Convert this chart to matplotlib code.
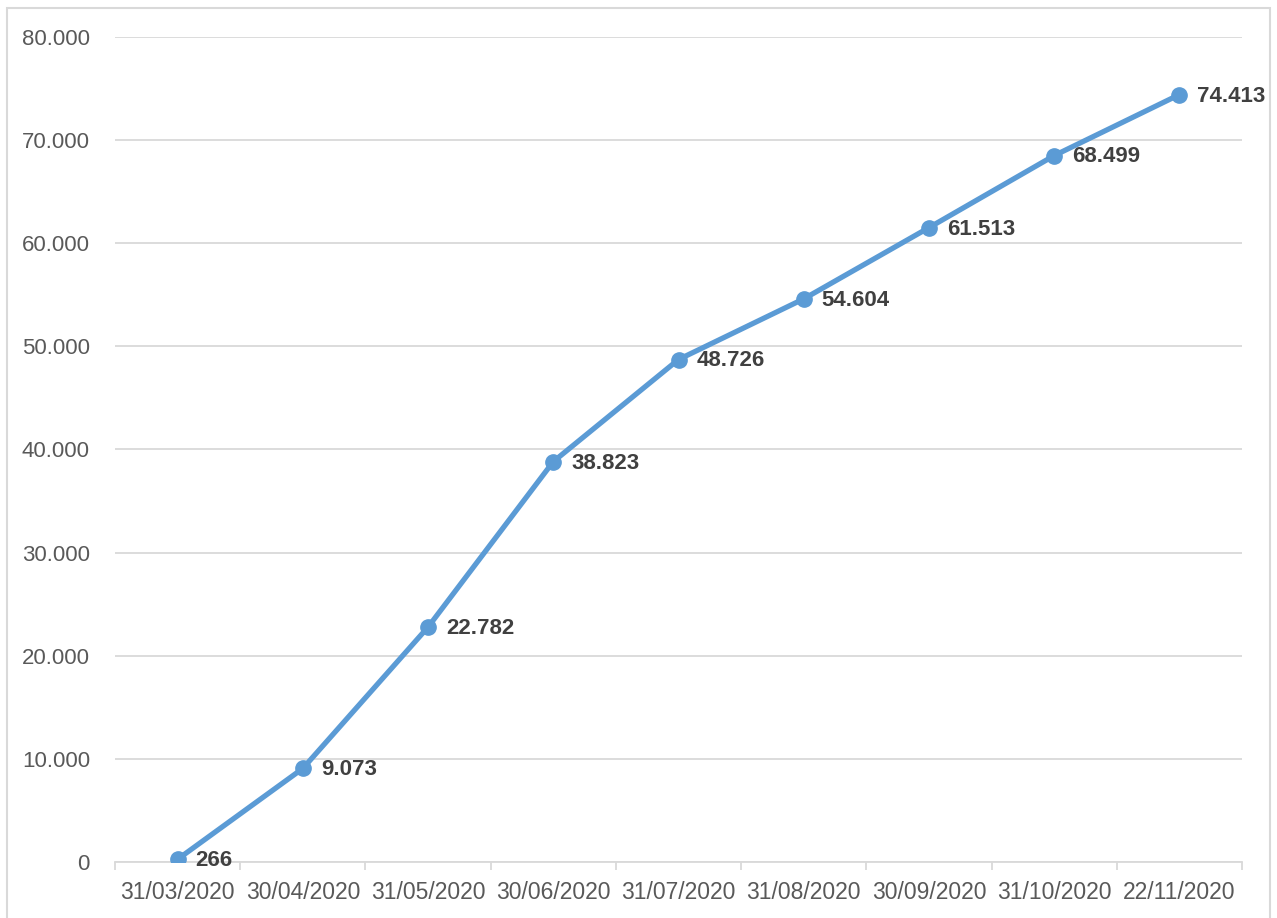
import matplotlib

matplotlib.use("Agg")
import matplotlib.pyplot as plt  # noqa: E402
from matplotlib.patches import Rectangle  # noqa: E402

dates = ["31/03/2020", "30/04/2020", "31/05/2020", "30/06/2020", "31/07/2020",
         "31/08/2020", "30/09/2020", "31/10/2020", "22/11/2020"]
cases = [266, 9073, 22782, 38823, 48726, 54604, 61513, 68499, 74413]
yticks = [0, 10000, 20000, 30000, 40000, 50000, 60000, 70000, 80000]

LINE = "#5b9bd5"
GRID = "#d9d9d9"
TXT = "#595959"
LBL = "#404040"


def fmt(v):
    return f"{v:,}".replace(",", ".")


plt.rcParams["font.family"] = ["Liberation Sans", "DejaVu Sans"]

fig = plt.figure(figsize=(12.77, 9.18), dpi=100)
ax = fig.add_axes([115 / 1277, 56 / 918, 1127 / 1277, 825 / 918])

# chart-area border, as in the spreadsheet export
fig.patches.append(Rectangle((7 / 1277, -0.05), 1263 / 1277, 1.05 - 8 / 918,
                             transform=fig.transFigure, fill=False,
                             ec=GRID, lw=1.5, zorder=0))

x = list(range(len(dates)))
ax.plot(x, cases, color=LINE, lw=3.8, marker="o", ms=11, zorder=3,
        solid_capstyle="round")
for xi, v in zip(x, cases):
    ax.annotate(fmt(v), (xi, v), xytext=(13, -1), textcoords="offset points",
                ha="left", va="center", fontsize=16, fontweight="bold",
                color=LBL, zorder=4)

ax.set_xlim(-0.5, len(dates) - 0.5)
ax.set_ylim(0, 80000)
ax.set_yticks(yticks)
ax.set_yticklabels([fmt(t) for t in yticks])
ax.set_xticks(x)
ax.set_xticklabels(dates)
ax.set_xticks([i - 0.5 for i in range(len(dates) + 1)], minor=True)

ax.grid(axis="y", color=GRID, lw=1.3)
ax.set_axisbelow(True)
for s in ["top", "right", "left"]:
    ax.spines[s].set_visible(False)
ax.spines["bottom"].set_color(GRID)
ax.spines["bottom"].set_linewidth(1.3)

ax.tick_params(axis="y", length=0, pad=18, labelsize=16, labelcolor=TXT)
ax.tick_params(axis="x", which="major", length=0, pad=14, labelsize=16.5,
               labelcolor=TXT)
ax.tick_params(axis="x", which="minor", length=6, width=1.3, color=GRID,
               direction="out")

fig.savefig("out.png", dpi=100)
